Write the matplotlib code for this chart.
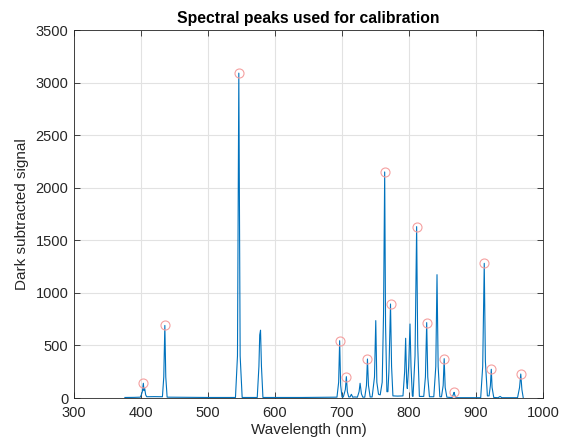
import matplotlib
matplotlib.use('Agg')
import matplotlib.pyplot as plt

# spectrum, (wavelength nm, dark subtracted signal)
wavelength = [
    376, 390, 399, 400.5, 402, 403.5, 404.5, 405.5, 407, 408.5,
    420, 432, 434, 435.6, 437, 439,
    500, 541, 544, 546, 548, 551,
    573.5, 576, 577.2, 578.4, 579.8, 582,
    640, 692.5, 695, 696.5, 698, 700,
    702, 705, 706.5, 708, 710,
    712, 714, 716, 719, 723, 725.5, 727, 729, 731,
    734, 736.5, 738, 739.5, 742,
    745, 748.5, 750.4, 752, 754.5, 757, 760, 762, 763.7, 765, 767, 768.5,
    770, 772.4, 774, 776, 783, 791,
    793.5, 795, 796.5, 797.5, 799.5, 801.5, 803, 805,
    806, 809, 811.4, 813, 815.5, 819,
    822, 824.5, 826.4, 828, 830.5, 834,
    837, 840, 841.8, 843.5, 846,
    848.5, 851, 852.5, 854, 856.5, 860,
    864.5, 866.5, 867.3, 868.5, 870,
    890, 907, 910, 912.3, 914, 917,
    919.5, 921.5, 922.8, 924, 926.5,
    933, 936, 938.5, 950, 962, 965, 966.8, 968.5, 970.5,
]
signal = [
    5, 6, 8, 30, 60, 140, 70, 90, 30, 12,
    13, 12, 200, 690, 200, 8,
    5, 5, 400, 3090, 400, 5,
    5, 300, 600, 645, 300, 5,
    5, 8, 150, 545, 120, 10,
    10, 80, 203, 60, 10,
    10, 35, 8, 10, 8, 60, 140, 40, 8,
    8, 120, 371, 120, 10,
    10, 200, 736, 150, 35, 30, 150, 800, 2150, 700, 60, 60,
    250, 894, 300, 20, 18, 20,
    250, 568, 150, 90, 300, 704, 300, 20,
    15, 400, 1630, 500, 15, 15,
    15, 200, 717, 200, 12, 12,
    12, 300, 1173, 300, 12,
    12, 120, 374, 100, 8, 6,
    5, 40, 54, 25, 3,
    3, 3, 300, 1281, 350, 20,
    20, 120, 273, 100, 5,
    3, 15, 3, 3, 3, 100, 228, 80, 2,
]

# peaks marked as used for calibration
peak_nm = [403.5, 435.6, 546, 696.5, 706.5, 738, 763.7, 772.4, 811.4,
           826.4, 852.5, 867.3, 912.3, 922.8, 966.8]
peak_val = [140, 690, 3090, 545, 203, 371, 2150, 894, 1630,
            717, 374, 54, 1281, 273, 228]

x_ticks = [300, 400, 500, 600, 700, 800, 900, 1000]
y_ticks = [0, 500, 1000, 1500, 2000, 2500, 3000, 3500]


def main():
    plt.rcParams['font.family'] = ['Liberation Sans', 'DejaVu Sans']
    ax_col = '#262626'

    fig = plt.figure(figsize=(5.74, 4.44), dpi=100)
    ax = fig.add_axes([0.1289, 0.1036, 0.8171, 0.8288])

    ax.plot(wavelength, signal, '-', color='#0072BD', linewidth=0.8)
    ax.plot(peak_nm, peak_val, 'o', markerfacecolor='none',
            markeredgecolor='#f5a0a0', markersize=6.5, markeredgewidth=0.8)

    ax.set_xlim(300, 1000)
    ax.set_ylim(0, 3500)
    ax.set_xticks(x_ticks)
    ax.set_yticks(y_ticks)
    ax.grid(True, color='#e2e2e2', linewidth=0.8)
    ax.set_axisbelow(True)

    ax.tick_params(direction='in', top=True, right=True, length=4,
                   width=0.6, colors=ax_col, labelsize=10.5)
    ax.tick_params(axis='x', pad=6)
    ax.tick_params(axis='y', pad=4)
    for sp in ax.spines.values():
        sp.set_color(ax_col)
        sp.set_linewidth(0.6)

    ax.set_xlabel('Wavelength (nm)', fontsize=11, color=ax_col, labelpad=2)
    ax.set_ylabel('Dark subtracted signal', fontsize=11, color=ax_col, labelpad=5)
    ax.set_title('Spectral peaks used for calibration', fontsize=11.3,
                 fontweight='bold', color='black', pad=5)

    fig.savefig('out.png', dpi=100)


if __name__ == "__main__":
    main()
